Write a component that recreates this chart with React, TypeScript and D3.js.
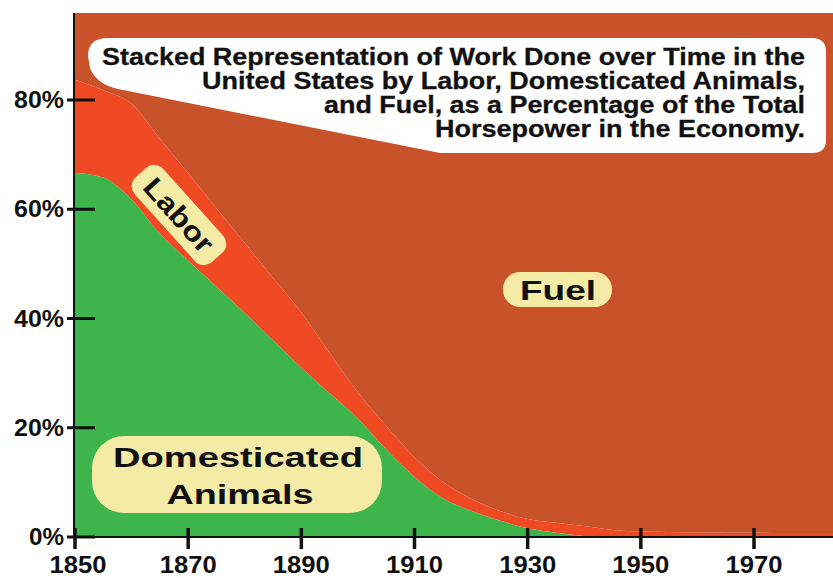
import React from 'react';
import * as d3 from 'd3';

const years = [1850, 1855, 1860, 1865, 1870, 1875, 1880, 1885, 1890, 1895, 1900, 1905, 1910, 1915, 1920, 1925, 1930, 1935, 1940, 1945, 1950, 1955, 1960, 1965, 1970, 1975, 1980, 1985];
const animals = [66.7, 65.8, 61.8, 55.5, 50.6, 45.8, 41.0, 36.0, 31.0, 26.3, 21.7, 16.0, 11.0, 7.1, 4.8, 3.0, 1.6, 0.8, 0.2, 0, 0, 0, 0, 0, 0, 0, 0, 0];
const labor = [17.0, 16.0, 17.5, 17.4, 16.0, 14.4, 12.8, 11.4, 10.1, 7.4, 4.8, 4.3, 3.6, 3.0, 2.2, 1.8, 1.7, 1.8, 1.8, 1.3, 1.0, 0.9, 0.85, 0.8, 0.8, 0.75, 0.75, 0.75];
const yTicks = [0, 20, 40, 60, 80];
const xTicks = [1850, 1870, 1890, 1910, 1930, 1950, 1970];
const titleLines = [
  'Stacked Representation of Work Done over Time in the',
  'United States by Labor, Domesticated Animals,',
  'and Fuel, as a Percentage of the Total',
  'Horsepower in the Economy.',
];
const seriesKeys = ['animals', 'labor', 'fuel'];
const colors: Record<string, string> = { animals: '#3db54a', labor: '#ef4a23', fuel: '#c8522a' };

const FONT = '"Liberation Sans", Arial, Helvetica, sans-serif';

export default function App() {
  const W = 833, H = 578;
  const x = d3.scaleLinear().domain([1850, 1970]).range([75, 754]);
  const y = d3.scaleLinear().domain([0, 80]).range([537, 100]);
  const plotTop = 13;
  const plotLeft = 74;
  const rows = years.map((yr, i) => ({ year: yr, animals: animals[i], labor: labor[i], fuel: 100 - animals[i] - labor[i] }));
  const stacked = d3.stack<any>().keys(seriesKeys)(rows);
  const area = d3.area<any>()
    .x((d: any) => x(d.data.year))
    .y0((d: any) => y(d[0]))
    .y1((d: any) => y(d[1]))
    .curve(d3.curveMonotoneX);

  const titleWidths = [703, 603, 481, 370];
  const titleBase = [65, 89, 113, 137];

  return (
    <svg width={W} height={H} style={{ position: 'absolute', left: 0, top: 0, display: 'block', background: '#fff' }}>
      <defs>
        <clipPath id="plot">
          <rect x={plotLeft} y={plotTop} width={W - plotLeft} height={y(0) - plotTop} />
        </clipPath>
      </defs>
      <g clipPath="url(#plot)">
        {stacked.map((s: any) => (
          <path key={s.key} d={area(s) || ''} fill={colors[s.key]} />
        ))}
      </g>
      {/* title callout */}
      <path d="M 108 38 H 812 Q 826 38 826 52 V 140 Q 826 153 812 153 H 440 L 118 89 Q 96 84 90 68 L 88 56 Q 88 38 108 38 Z" fill="#fff" />
      {titleLines.map((t, i) => (
        <text key={i} x={805} y={titleBase[i]} textAnchor="end" fontFamily={FONT} fontWeight="bold" fontSize={23}
          textLength={titleWidths[i]} lengthAdjust="spacingAndGlyphs" fill="#111" stroke="#111" strokeWidth={0.3}>{t}</text>
      ))}
      {/* axes */}
      <line x1={plotLeft} x2={plotLeft} y1={plotTop} y2={y(0)} stroke="#111" strokeWidth={2} />
      <line x1={plotLeft} x2={W} y1={y(0)} y2={y(0)} stroke="#111" strokeWidth={2} />
      {yTicks.map(v => (
        <g key={v}>
          <line x1={67} x2={95} y1={y(v)} y2={y(v)} stroke="#111" strokeWidth={3} />
          <text x={64} y={y(v) + 8} textAnchor="end" fontFamily={FONT} fontWeight="bold" fontSize={23}
            textLength={v === 0 ? 35 : 50} lengthAdjust="spacingAndGlyphs" fill="#111">{v}%</text>
        </g>
      ))}
      {xTicks.map(v => (
        <g key={v}>
          <line x1={x(v)} x2={x(v)} y1={y(0) - 9} y2={y(0) + 12} stroke="#111" strokeWidth={3.5} />
          <text x={x(v) + (v === 1850 ? 3 : 0)} y={573} textAnchor="middle" fontFamily={FONT} fontWeight="bold" fontSize={23}
            textLength={57} lengthAdjust="spacingAndGlyphs" fill="#111">{v}</text>
        </g>
      ))}
      {/* labels */}
      <rect x={92} y={436} width={290} height={77} rx={32} fill="#f4eca6" />
      <text x={238} y={467} textAnchor="middle" fontFamily={FONT} fontWeight="bold" fontSize={28} textLength={250} lengthAdjust="spacingAndGlyphs" fill="#111">Domesticated</text>
      <text x={240} y={504} textAnchor="middle" fontFamily={FONT} fontWeight="bold" fontSize={28} textLength={147} lengthAdjust="spacingAndGlyphs" fill="#111">Animals</text>
      <g transform="translate(179,215) rotate(48)">
        <rect x={-57} y={-19} width={114} height={38} rx={12} fill="#f4eca6" />
        <text x={0} y={10} textAnchor="middle" fontFamily={FONT} fontWeight="bold" fontSize={28} textLength={90} lengthAdjust="spacingAndGlyphs" fill="#111">Labor</text>
      </g>
      <rect x={503} y={272} width={109} height={35} rx={17} fill="#f4eca6" />
      <text x={558} y={300} textAnchor="middle" fontFamily={FONT} fontWeight="bold" fontSize={28} textLength={76} lengthAdjust="spacingAndGlyphs" fill="#111">Fuel</text>
    </svg>
  );
}
